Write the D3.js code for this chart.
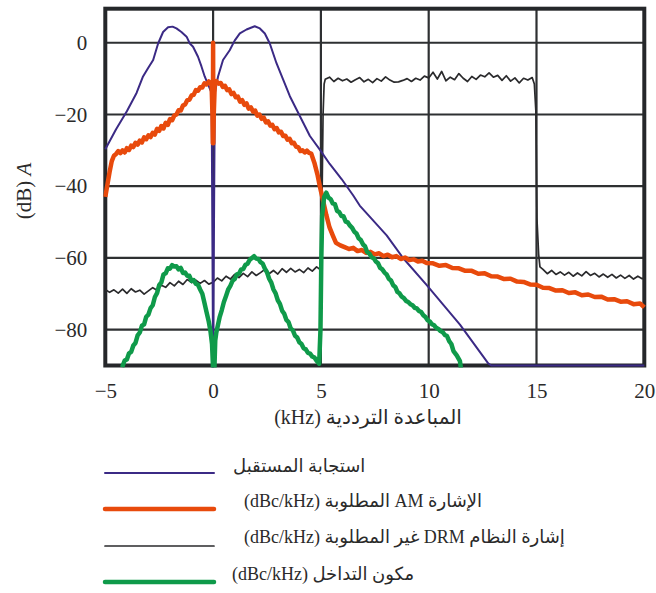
<!DOCTYPE html>
<html>
<head>
<meta charset="utf-8">
<script src="https://cdn.jsdelivr.net/npm/d3@7"></script>
<style>
  body { margin: 0; background: #fff; }
  svg { display: block; }
</style>
</head>
<body>
<svg id="chart" width="656" height="593"></svg>
<script>
// Frequency offset (kHz) vs level (dB)
const xTicks = [-5, 0, 5, 10, 15, 20];
const yTicks = [0, -20, -40, -60, -80];
const xGrid = [0, 5, 10, 15];

// Receiver response: [kHz, dB]
const receiverResponse = [
  [-5, -29.7], [-4.5, -24.1], [-4, -19.1], [-3.55, -14], [-3.25, -9.4], [-3.02, -7.1],
  [-2.78, -4.8], [-2.55, -0.2], [-2.32, 3], [-2.09, 4.3], [-1.88, 4.5], [-1.7, 4],
  [-1.47, 3], [-1.23, 1.7], [-1.08, -0.2], [-0.93, -1.1], [-0.7, -3.9], [-0.54, -6.6],
  [-0.39, -9.4], [-0.23, -11.7], [-0.07, -14], [0, -91], [0.08, -14], [0.23, -9.4],
  [0.46, -4.8], [0.77, -2.1], [1.0, 0.6], [1.24, 2.6], [1.55, 3.7], [1.93, 4.6],
  [2.17, 4], [2.4, 2.6], [2.63, -0.2], [2.94, -5.7], [3.25, -10.3], [3.56, -14.9],
  [3.87, -18.6], [4.18, -22.3], [4.49, -26], [4.95, -29.8], [5.41, -33.8], [5.96, -38],
  [6.5, -42.6], [6.8, -45.4], [8.05, -53.7], [8.82, -60.1], [9.9, -67.5], [11.45, -78.6],
  [12.76, -89.4], [12.9, -90], [20, -90]
];

// Wanted AM signal (dBc/kHz): [kHz, dB]
const amSignal = [
  [-5.0, -43], [-4.9, -39.5], [-4.8, -36], [-4.7, -33], [-4.6, -31.5], [-4.5, -31.0],
  [-4.4, -30.2], [-4.3, -30.8], [-4.2, -30.0], [-4.1, -30.6], [-4.0, -29.4], [-3.9, -29.9],
  [-3.8, -28.7], [-3.7, -29.1], [-3.6, -27.9], [-3.5, -28.4], [-3.4, -27.3], [-3.3, -27.8],
  [-3.2, -26.4], [-3.1, -26.9], [-3.0, -25.8], [-2.9, -26.3], [-2.8, -25.1], [-2.7, -25.6],
  [-2.6, -24.0], [-2.5, -24.6], [-2.4, -23.2], [-2.3, -23.9], [-2.2, -22.3], [-2.1, -22.9],
  [-2.0, -21.3], [-1.9, -21.6], [-1.8, -20.3], [-1.7, -20.0], [-1.6, -18.8], [-1.5, -18.9],
  [-1.4, -17.5], [-1.3, -17.2], [-1.2, -16.0], [-1.1, -15.9], [-1.0, -14.7], [-0.9, -14.5],
  [-0.8, -13.2], [-0.7, -13.4], [-0.6, -12.4], [-0.5, -12.5], [-0.4, -11.3], [-0.3, -11.6],
  [-0.2, -10.8], [-0.12, -11.2], [-0.07, -11.8], [-0.03, -20], [-0.01, -28], [0, 0],
  [0.01, -28], [0.03, -20], [0.08, -11.3], [0.15, -10.7], [0.25, -11.4], [0.35, -11.2],
  [0.45, -12.3], [0.55, -12.0], [0.65, -13.2], [0.75, -13.0], [0.85, -14.3], [0.95, -14.0],
  [1.05, -15.2], [1.15, -15.0], [1.25, -16.4], [1.35, -16.0], [1.45, -17.3], [1.55, -16.9],
  [1.65, -18.4], [1.75, -18.0], [1.85, -19.2], [1.95, -18.9], [2.05, -20.3], [2.15, -20.0],
  [2.25, -21.2], [2.35, -20.9], [2.45, -22.2], [2.55, -21.9], [2.65, -23.1], [2.75, -22.9],
  [2.85, -24.1], [2.95, -23.8], [3.05, -25.0], [3.15, -24.8], [3.25, -26.0], [3.35, -25.9],
  [3.45, -27.0], [3.55, -26.8], [3.65, -28.0], [3.75, -27.9], [3.85, -29.0], [3.95, -29.1],
  [4.05, -30.2], [4.15, -30.0], [4.25, -30.6], [4.35, -30.1], [4.45, -30.7], [4.55, -30.9],
  [4.7, -33.5], [4.85, -37], [4.95, -40], [5.1, -44], [5.25, -48], [5.4, -51.5],
  [5.55, -53.7], [5.7, -55.8], [5.9, -56.5], [6.1, -57.0], [6.3, -57.5], [6.5, -57.2],
  [6.7, -58.1], [6.9, -57.8], [7.1, -58.6], [7.3, -58.3], [7.5, -59.0], [7.7, -58.7],
  [7.9, -59.5], [8.1, -59.1], [8.3, -59.8], [8.5, -59.5], [8.7, -60.3], [8.9, -59.9],
  [9.1, -60.6], [9.3, -60.4], [9.5, -61.0], [9.7, -60.8], [9.9, -61.4], [10.2, -61.5],
  [10.5, -62.2], [10.8, -62.0], [11.1, -62.8], [11.4, -62.9], [11.7, -63.6], [12.0, -63.6],
  [12.3, -64.4], [12.6, -64.3], [12.9, -65.1], [13.2, -65.2], [13.5, -65.9], [13.8, -65.8],
  [14.1, -66.6], [14.4, -66.7], [14.7, -67.4], [15.0, -67.5], [15.3, -68.3], [15.6, -68.4],
  [15.9, -69.1], [16.2, -69.0], [16.5, -69.8], [16.8, -69.6], [17.1, -70.4], [17.4, -70.2],
  [17.7, -70.9], [18.0, -70.8], [18.3, -71.6], [18.6, -71.5], [18.9, -72.2], [19.2, -72.1],
  [19.5, -72.9], [19.8, -72.7], [20, -73.8]
];

// Unwanted DRM signal (dBc/kHz): [kHz, dB]
const drmSignal = [
  [-5.0, -68.8], [-4.8, -69.6], [-4.6, -68.9], [-4.4, -69.8], [-4.2, -68.7], [-4.0, -69.9],
  [-3.8, -68.6], [-3.6, -69.5], [-3.4, -69.0], [-3.2, -70.1], [-3.0, -69.2], [-2.8, -68.3],
  [-2.6, -69.0], [-2.4, -67.6], [-2.2, -68.2], [-2.0, -66.9], [-1.8, -67.8], [-1.6, -66.5],
  [-1.4, -67.4], [-1.2, -66.0], [-1.0, -66.9], [-0.8, -66.2], [-0.6, -67.1], [-0.4, -66.3],
  [-0.2, -67.3], [0.0, -66.8], [0.2, -65.6], [0.4, -66.4], [0.6, -65.1], [0.8, -65.9],
  [1.0, -64.6], [1.2, -65.5], [1.4, -64.3], [1.6, -65.2], [1.8, -63.9], [2.0, -64.9],
  [2.2, -64.1], [2.4, -63.2], [2.6, -64.4], [2.8, -63.5], [3.0, -64.5], [3.2, -63.0],
  [3.4, -64.0], [3.6, -62.9], [3.8, -63.9], [4.0, -63.2], [4.2, -64.1], [4.4, -62.8],
  [4.6, -63.7], [4.8, -62.5], [5.0, -63.4], [5.05, -45], [5.1, -20], [5.15, -11.5],
  [5.2, -10.2], [5.4, -9.6], [5.6, -10.8], [5.8, -9.9], [6.0, -10.6], [6.2, -10.1],
  [6.4, -11.0], [6.6, -10.3], [6.8, -9.7], [7.0, -10.9], [7.2, -10.2], [7.4, -11.1],
  [7.6, -10.0], [7.8, -10.7], [8.0, -9.5], [8.2, -10.4], [8.4, -11.0], [8.6, -10.9],
  [8.8, -10.5], [9.0, -10.0], [9.2, -10.8], [9.4, -9.9], [9.6, -10.4], [9.8, -9.3],
  [10.0, -9.8], [10.2, -8.2], [10.4, -10.1], [10.6, -8.0], [10.8, -10.6], [11.0, -9.6],
  [11.2, -10.3], [11.4, -8.6], [11.6, -9.9], [11.8, -10.8], [12.0, -9.4], [12.2, -10.2],
  [12.4, -9.0], [12.6, -9.5], [12.8, -8.4], [13.0, -9.6], [13.2, -9.1], [13.4, -10.5],
  [13.6, -9.2], [13.8, -10.7], [14.0, -9.8], [14.2, -11.2], [14.4, -9.9], [14.6, -10.4],
  [14.8, -9.7], [14.9, -11.5], [14.97, -19], [15.02, -49], [15.1, -59], [15.16, -62.5],
  [15.3, -63.2], [15.5, -64.4], [15.7, -63.5], [15.9, -64.6], [16.1, -63.9], [16.3, -64.8],
  [16.5, -64.0], [16.7, -65.1], [16.9, -64.2], [17.1, -65.0], [17.3, -63.8], [17.5, -64.9],
  [17.7, -64.3], [17.9, -65.3], [18.1, -64.5], [18.3, -65.4], [18.5, -64.6], [18.7, -65.6],
  [18.9, -64.8], [19.1, -65.7], [19.3, -64.9], [19.5, -65.9], [19.7, -65.1], [19.9, -65.8],
  [20, -65.5]
];

// Interference component (dBc/kHz): [kHz, dB]
const interference = [
  [-4.22, -90.5], [-4.1, -88.6], [-4.0, -88.3], [-3.9, -86.6], [-3.8, -86.2], [-3.7, -84.4],
  [-3.6, -83.7], [-3.5, -81.6], [-3.4, -80.8], [-3.3, -78.9], [-3.2, -78.5], [-3.1, -76.4],
  [-3.0, -75.8], [-2.9, -74.0], [-2.8, -73.2], [-2.7, -70.9], [-2.6, -69.8], [-2.5, -67.6],
  [-2.4, -66.8], [-2.3, -64.6], [-2.2, -64.3], [-2.1, -62.9], [-2.0, -63.0], [-1.9, -62.0],
  [-1.8, -62.4], [-1.7, -62.3], [-1.6, -63.2], [-1.5, -62.8], [-1.4, -64.2], [-1.3, -64.1],
  [-1.2, -65.0], [-1.1, -65.0], [-1.0, -66.4], [-0.9, -66.2], [-0.8, -67.2], [-0.7, -67.5],
  [-0.6, -68.8], [-0.5, -70.0], [-0.4, -72.6], [-0.3, -75.2], [-0.2, -77.8], [-0.12, -80.5],
  [-0.05, -84], [0, -91], [0.06, -91], [0.1, -83], [0.15, -80.8], [0.2, -79.4],
  [0.3, -76.6], [0.4, -74.6], [0.5, -72.3], [0.6, -70.6], [0.7, -68.8], [0.8, -67.8],
  [0.9, -66.4], [1.0, -65.9], [1.1, -64.6], [1.2, -64.4], [1.3, -63.2], [1.4, -63.1],
  [1.5, -61.9], [1.6, -61.6], [1.7, -60.5], [1.8, -60.0], [1.9, -59.5], [2.0, -60.2],
  [2.1, -60.3], [2.2, -61.2], [2.3, -61.6], [2.4, -63.0], [2.5, -64.0], [2.6, -65.8],
  [2.7, -66.9], [2.8, -68.8], [2.9, -69.9], [3.0, -71.8], [3.1, -72.8], [3.2, -74.7],
  [3.3, -75.6], [3.4, -77.3], [3.5, -77.9], [3.6, -79.7], [3.7, -80.2], [3.8, -81.7],
  [3.9, -82.2], [4.0, -83.5], [4.1, -84.0], [4.2, -85.2], [4.3, -85.5], [4.4, -86.5],
  [4.5, -86.7], [4.6, -87.5], [4.7, -87.8], [4.8, -88.7], [4.92, -89.5], [4.98, -80],
  [5.02, -60], [5.06, -48], [5.15, -43], [5.25, -41.8], [5.35, -43.2], [5.45, -43.6],
  [5.55, -44.8], [5.65, -45.0], [5.75, -46.9], [5.85, -47.2], [5.95, -48.3], [6.05, -48.4],
  [6.15, -49.9], [6.25, -50.1], [6.35, -51.0], [6.45, -51.6], [6.55, -52.7], [6.65, -53.2],
  [6.75, -54.5], [6.85, -55.0], [6.95, -56.2], [7.05, -56.8], [7.15, -58.4], [7.25, -58.8],
  [7.35, -59.8], [7.45, -60.1], [7.55, -61.0], [7.65, -61.5], [7.75, -62.8], [7.85, -63.2],
  [7.95, -64.1], [8.05, -64.6], [8.15, -65.8], [8.25, -66.3], [8.35, -67.6], [8.45, -68.1],
  [8.55, -69.5], [8.65, -69.9], [8.75, -70.8], [8.85, -71.2], [8.95, -72.0], [9.05, -72.3],
  [9.15, -72.9], [9.25, -73.2], [9.35, -73.9], [9.45, -74.1], [9.55, -74.8], [9.65, -75.1],
  [9.75, -76.0], [9.85, -76.5], [9.95, -77.4], [10.05, -77.7], [10.15, -78.5], [10.25, -78.8],
  [10.35, -79.5], [10.45, -79.8], [10.55, -80.4], [10.65, -80.7], [10.75, -81.5], [10.85, -81.8],
  [10.95, -83.2], [11.05, -84.0], [11.15, -86], [11.3, -87.2], [11.45, -88.8], [11.5, -91]
];

const legendLabels = [
  "استجابة المستقبل",
  "الإشارة AM المطلوبة (dBc/kHz)",
  "إشارة النظام DRM غير المطلوبة (dBc/kHz)",
  "مكون التداخل (dBc/kHz)"
];

const xTitle = "المباعدة الترددية (kHz)";

// ---- drawing ----
const svg = d3.select("#chart");
const W = 656, H = 593;
const plot = { left: 105.3, right: 644.3, top: 8.7, bottom: 365.5 };
const serif = "'Liberation Serif', 'Times New Roman', 'DejaVu Serif', serif";
const arabicFont = "'Liberation Serif', 'DejaVu Sans', serif";

svg.append("rect").attr("width", W).attr("height", H).attr("fill", "#fff");

const x = d3.scaleLinear().domain([-5, 20]).range([plot.left, plot.right]);
const y = d3.scaleLinear().domain([-90, 9.5]).range([plot.bottom, plot.top]);

// grid
const grid = svg.append("g").attr("stroke", "#2e3032").attr("stroke-width", 2.2);
grid.selectAll("line.v").data(xGrid).join("line")
  .attr("class", "v")
  .attr("x1", d => x(d)).attr("x2", d => x(d))
  .attr("y1", plot.top).attr("y2", plot.bottom);
grid.selectAll("line.h").data(yTicks).join("line")
  .attr("class", "h")
  .attr("x1", plot.left).attr("x2", plot.right)
  .attr("y1", d => y(d)).attr("y2", d => y(d));

// frame
svg.append("rect")
  .attr("x", plot.left).attr("y", plot.top)
  .attr("width", plot.right - plot.left).attr("height", plot.bottom - plot.top)
  .attr("fill", "none").attr("stroke", "#25272a").attr("stroke-width", 4);

// axes (labels only)
const yAxis = svg.append("g")
  .attr("transform", `translate(${plot.left},0)`)
  .call(d3.axisLeft(y).tickValues(yTicks).tickSize(0).tickPadding(18));
const xAxis = svg.append("g")
  .attr("transform", `translate(0,${plot.bottom})`)
  .call(d3.axisBottom(x).tickValues(xTicks).tickSize(0).tickPadding(18));
[yAxis, xAxis].forEach(g => {
  g.select(".domain").remove();
  g.selectAll("text")
    .attr("font-family", serif)
    .attr("font-size", 21)
    .attr("fill", "#2a2a2a");
});

// series
const clipId = "plot-clip";
svg.append("clipPath").attr("id", clipId).append("rect")
  .attr("x", plot.left - 2).attr("y", plot.top)
  .attr("width", plot.right - plot.left + 4).attr("height", plot.bottom - plot.top + 2);

const line = d3.line().x(d => x(d[0])).y(d => y(d[1]));

const series = [
  { data: drmSignal, color: "#2a2a2c", width: 1.7 },
  { data: receiverResponse, color: "#3b2a85", width: 2 },
  { data: amSignal, color: "#e84a0c", width: 4.5 },
  { data: interference, color: "#0f9a4a", width: 4.5 }
];
const lines = svg.append("g").attr("clip-path", `url(#${clipId})`);
lines.selectAll("path").data(series).join("path")
  .attr("d", d => line(d.data))
  .attr("fill", "none")
  .attr("stroke", d => d.color)
  .attr("stroke-width", d => d.width)
  .attr("stroke-linejoin", "round");

// axis titles
svg.append("text")
  .attr("transform", "translate(31,191) rotate(-90)")
  .attr("text-anchor", "middle")
  .attr("font-family", serif)
  .attr("font-size", 21)
  .attr("fill", "#2a2a2a")
  .call(t => {
    t.append("tspan").text("(dB) ");
    t.append("tspan").attr("font-style", "italic").text("A");
  });

svg.append("text")
  .attr("x", 368).attr("y", 424)
  .attr("text-anchor", "middle")
  .attr("direction", "rtl")
  .attr("font-family", arabicFont)
  .attr("font-size", 20)
  .attr("fill", "#2a2a2a")
  .text(xTitle);

// legend, in the order: receiver, AM, DRM, interference
const legendRows = [
  { lineY: 473, textLeft: 233, baseline: 472 },
  { lineY: 509, textLeft: 244, baseline: 507 },
  { lineY: 546, textLeft: 244, baseline: 543 },
  { lineY: 582, textLeft: 232, baseline: 580 }
];
const legend = svg.append("g");
const legendSeries = [series[1], series[2], series[0], series[3]];
legendLabels.forEach((label, i) => {
  const row = legendRows[i], s = legendSeries[i];
  legend.append("line")
    .attr("x1", 105).attr("x2", 214)
    .attr("y1", row.lineY).attr("y2", row.lineY)
    .attr("stroke", s.color).attr("stroke-width", s.width)
    .attr("stroke-linecap", "round");
  const t = legend.append("text")
    .attr("x", 0).attr("y", row.baseline)
    .attr("direction", "rtl")
    .attr("text-anchor", "middle")
    .attr("font-family", arabicFont)
    .attr("font-size", 18)
    .attr("fill", "#2a2a2a")
    .text(label);
  const bb = t.node().getBBox();
  t.attr("x", row.textLeft - bb.x);
});
</script>
</body>
</html>
